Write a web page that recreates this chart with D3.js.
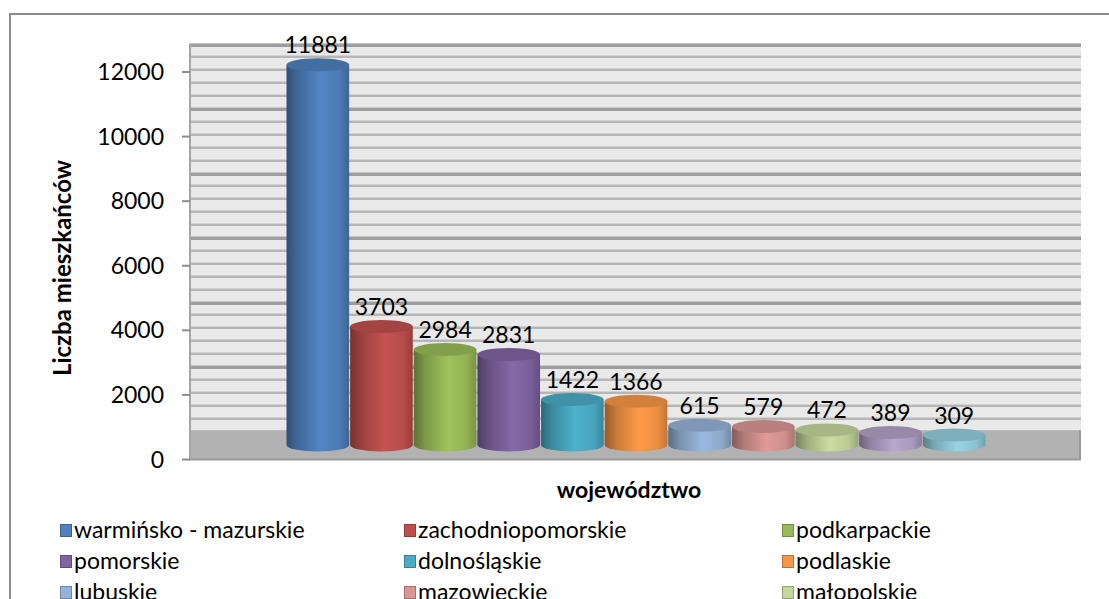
<!DOCTYPE html>
<meta charset="utf-8">
<html>
  <head>
    <style>
      body { margin: 0; background: #fff; }
      text { font-family: Lato, "Open Sans", sans-serif; fill: #000; }
      text.lbl { font-size: 23px; }
      text.leg { font-size: 23px; }
      text.title { font-size: 23px; font-weight: bold; }
    </style>
    <script src="https://cdn.jsdelivr.net/npm/d3@7"></script>
  </head>
  <body>
    <div id="chart"></div>
    <script>
      // dane
      var names = ["warmińsko - mazurskie", "zachodniopomorskie", "podkarpackie", "pomorskie",
                   "dolnośląskie", "podlaskie", "lubuskie", "mazowieckie", "małopolskie",
                   "kujawsko-pomorskie", "lubelskie"];
      var values = [11881, 3703, 2984, 2831, 1422, 1366, 615, 579, 472, 389, 309];
      var colors = ["#4F81BD", "#C0504D", "#9BBB59", "#8064A2", "#4BACC6", "#F79646",
                    "#95B3D7", "#D99694", "#C3D69B", "#B2A1C7", "#93CDDD"];
      var yTicks = [0, 2000, 4000, 6000, 8000, 10000, 12000];

      var W = 1109, H = 599;
      var wallLeft = 190, wallRight = 1081;

      var svg = d3.select("#chart").append("svg")
          .attr("width", W)
          .attr("height", H);

      var defs = svg.append("defs");

      // skale: os, sciana (przesunieta w glab), cylindry (srodek glebokosci)
      var yAxis = d3.scaleLinear().domain([0, 12000]).range([459.5, 72]);
      var yWall = d3.scaleLinear().domain([0, 12000]).range([430.5, 43.5]);
      var yCyl = d3.scaleLinear().domain([0, 12000]).range([445, 61]);
      var x = d3.scaleBand().domain(names).range([286, 986]).paddingInner(0);

      // ramka wykresu
      svg.append("rect")
          .attr("x", 10).attr("y", 14)
          .attr("width", 1200).attr("height", 700)
          .attr("fill", "none")
          .attr("stroke", "#8c8c8c")
          .attr("stroke-width", 2);

      // tylna sciana
      svg.append("rect")
          .attr("x", wallLeft).attr("y", yWall(12000))
          .attr("width", wallRight - wallLeft)
          .attr("height", yWall(0) - yWall(12000))
          .attr("fill", "#e9e9e9");

      var gridVals = d3.range(0, 12001, 400);
      var grid = svg.append("g");
      gridVals.forEach(function(v) {
        var major = v % 2000 === 0;
        var yy = Math.round(yWall(v));
        grid.append("rect")
            .attr("x", wallLeft).attr("y", yy - 1)
            .attr("width", wallRight - wallLeft).attr("height", 1)
            .attr("fill", major ? "#c6c6c6" : "#d2d2d2");
        grid.append("rect")
            .attr("x", wallLeft).attr("y", yy)
            .attr("width", wallRight - wallLeft).attr("height", major ? 3 : 2)
            .attr("fill", major ? "#9e9e9e" : "#b6b6b6");
      });

      // podloga
      svg.append("rect")
          .attr("x", wallLeft).attr("y", yWall(0))
          .attr("width", wallRight - wallLeft)
          .attr("height", yAxis(0) - yWall(0))
          .attr("fill", "#b2b2b2");
      svg.append("line")
          .attr("x1", wallLeft).attr("x2", wallRight)
          .attr("y1", yAxis(0)).attr("y2", yAxis(0))
          .attr("stroke", "#999").attr("stroke-width", 2);
      svg.append("line")
          .attr("x1", wallRight - 1).attr("x2", wallRight - 1)
          .attr("y1", yWall(0)).attr("y2", yAxis(0))
          .attr("stroke", "#999").attr("stroke-width", 2);

      // os Y
      svg.append("line")
          .attr("x1", wallLeft).attr("x2", wallLeft)
          .attr("y1", yWall(12000)).attr("y2", yAxis(0) + 1)
          .attr("stroke", "#a6a6a6").attr("stroke-width", 2);

      var ticks = svg.append("g");
      ticks.selectAll("line").data(yTicks).enter().append("line")
          .attr("x1", 182).attr("x2", wallLeft)
          .attr("y1", function(d) { return yAxis(d); })
          .attr("y2", function(d) { return yAxis(d); })
          .attr("stroke", "#8c8c8c").attr("stroke-width", 2);
      ticks.selectAll("text").data(yTicks).enter().append("text")
          .attr("class", "lbl")
          .attr("x", 164)
          .attr("y", function(d) { return yAxis(d) + 8; })
          .attr("text-anchor", "end")
          .text(function(d) { return d; });

      // gradienty cylindrow
      colors.forEach(function(c, i) {
        var g = defs.append("linearGradient")
            .attr("id", "grad" + i)
            .attr("x1", "0%").attr("x2", "100%").attr("y1", "0%").attr("y2", "0%");
        var base = d3.color(c);
        g.append("stop").attr("offset", "0%").attr("stop-color", base.darker(1.4));
        g.append("stop").attr("offset", "18%").attr("stop-color", base.darker(0.6));
        g.append("stop").attr("offset", "55%").attr("stop-color", base.brighter(0.1));
        g.append("stop").attr("offset", "85%").attr("stop-color", base.darker(0.15));
        g.append("stop").attr("offset", "100%").attr("stop-color", base.darker(0.7));
      });

      // cylindry
      var ry = 6.5;
      var cyl = svg.selectAll(".cyl")
          .data(values)
          .enter().append("g")
          .attr("class", "cyl");

      cyl.append("path")
          .attr("d", function(d, i) {
            var rx = x.bandwidth() / 2 - 0.5;
            var cx = x(names[i]) + x.bandwidth() / 2;
            var top = yCyl(d), bot = yCyl(0);
            return "M" + (cx - rx) + "," + top +
                   "L" + (cx - rx) + "," + bot +
                   "A" + rx + "," + ry + " 0 0 0 " + (cx + rx) + "," + bot +
                   "L" + (cx + rx) + "," + top + "Z";
          })
          .attr("fill", function(d, i) { return "url(#grad" + i + ")"; });

      cyl.append("ellipse")
          .attr("cx", function(d, i) { return x(names[i]) + x.bandwidth() / 2; })
          .attr("cy", function(d) { return yCyl(d); })
          .attr("rx", x.bandwidth() / 2 - 0.5)
          .attr("ry", ry)
          .attr("fill", function(d, i) { return d3.color(colors[i]).darker(0.45); });

      cyl.append("text")
          .attr("class", "lbl")
          .attr("x", function(d, i) { return x(names[i]) + x.bandwidth() / 2; })
          .attr("y", function(d) { return yCyl(d) - ry - 5; })
          .attr("text-anchor", "middle")
          .text(function(d) { return d; });

      // tytuly osi
      svg.append("text")
          .attr("class", "title")
          .style("font-size", "24px")
          .attr("transform", "translate(71,268) rotate(-90)")
          .attr("text-anchor", "middle")
          .text("Liczba mieszkańców");

      svg.append("text")
          .attr("class", "title")
          .attr("x", 629).attr("y", 498)
          .attr("text-anchor", "middle")
          .text("województwo");

      // legenda (czwarty wiersz poza kadrem, jak w oryginale)
      var colX = [60, 404, 782];
      var legend = svg.selectAll(".legend")
          .data(names)
          .enter().append("g")
          .attr("class", "legend")
          .attr("transform", function(d, i) {
            return "translate(" + colX[i % 3] + "," + (538 + Math.floor(i / 3) * 31) + ")";
          });

      legend.append("rect")
          .attr("x", 0.5).attr("y", -13.5)
          .attr("width", 11).attr("height", 12)
          .attr("fill", function(d, i) { return colors[i]; })
          .attr("stroke", function(d, i) { return d3.color(colors[i]).darker(0.8); })
          .attr("stroke-width", 1);

      legend.append("text")
          .attr("class", "leg")
          .attr("x", 14)
          .attr("y", 0)
          .text(function(d) { return d; });
    </script>
  </body>
</html>
